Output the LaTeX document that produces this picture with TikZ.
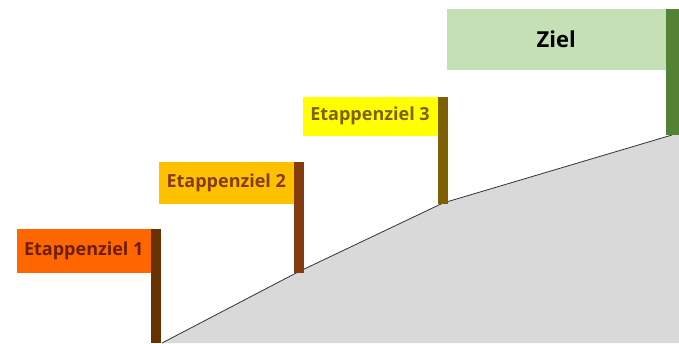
\documentclass[tikz,border=0pt]{standalone}
\usepackage{fontspec}
\setmainfont{Open Sans}
\definecolor{fOne}{HTML}{FF6600}
\definecolor{pOne}{HTML}{663300}
\definecolor{tOne}{HTML}{6B1F00}
\definecolor{fTwo}{HTML}{FFC000}
\definecolor{pTwo}{HTML}{843C0C}
\definecolor{tTwo}{HTML}{843C0C}
\definecolor{fThree}{HTML}{FFFF00}
\definecolor{pThree}{HTML}{7F6000}
\definecolor{tThree}{HTML}{7F6000}
\definecolor{fGoal}{HTML}{C5E0B4}
\definecolor{pGoal}{HTML}{548235}
\definecolor{hill}{HTML}{D9D9D9}
\begin{document}
\begin{tikzpicture}[x=1pt,y=-1pt,
  flagbox/.style={anchor=north west, inner sep=0pt, outer sep=0pt,
    font=\fontsize{18}{20}\selectfont\bfseries},
  pole/.style={anchor=north west, inner sep=0pt, outer sep=0pt, minimum width=10pt}]
\useasboundingbox (0,0) rectangle (679,343);
% hill
\coordinate (b0) at (162,343);
\coordinate (b1) at (298,272);
\coordinate (b2) at (443,203);
\coordinate (b3) at (672,135);
\fill[hill] (b0) -- (b1) -- (b2) -- (b3) -- (679,135) -- (679,343) -- cycle;
\draw[line width=0.8pt, black!80] (b0) -- (b1) -- (b2) -- (b3);
% flag 1
\node[flagbox, fill=fOne, text=tOne, minimum width=134.5pt, minimum height=44pt] (f1) at (16.5,229) {Etappenziel 1};
\node[pole, fill=pOne, minimum width=9.5pt, minimum height=114pt] (p1) at (151,229) {};
% flag 2
\node[flagbox, fill=fTwo, text=tTwo, minimum width=134.5pt, minimum height=41.5pt] (f2) at (159,162) {Etappenziel 2};
\node[pole, fill=pTwo, minimum width=10.5pt, minimum height=111pt] (p2) at (293.5,162) {};
% flag 3
\node[flagbox, fill=fThree, text=tThree, minimum width=135pt, minimum height=39.5pt] (f3) at (302.5,96.5) {Etappenziel 3};
\node[pole, fill=pThree, minimum width=10.5pt, minimum height=107pt] (p3) at (437.5,96.5) {};
% goal
\node[flagbox, fill=fGoal, text=black, minimum width=219.5pt, minimum height=61.5pt,
  font=\fontsize{22}{26}\selectfont\bfseries] (f4) at (446.5,8.5) {Ziel};
\node[pole, fill=pGoal, minimum width=13pt, minimum height=126.5pt] (p4) at (666,8.5) {};
\end{tikzpicture}
\end{document}
